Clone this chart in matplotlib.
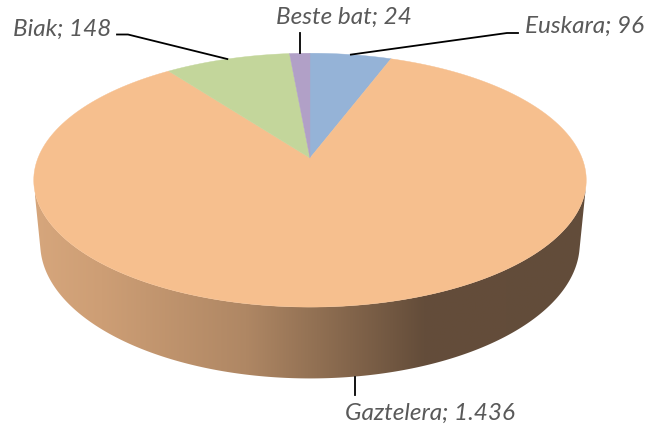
import numpy as np
import matplotlib
matplotlib.use("Agg")
import matplotlib.pyplot as plt
from matplotlib.patches import Polygon
from matplotlib.colors import LinearSegmentedColormap

# language counts, drawn clockwise from the back of the pie
labels = ["Euskara", "Gaztelera", "Biak", "Beste bat"]
values = [96, 1436, 148, 24]
value_text = ["96", "1.436", "148", "24"]
colors = ["#95B3D7", "#F6BF8E", "#C3D69B", "#B1A0C7"]

# simple perspective camera for a tilted disc of radius 1
cx, cy = 310, 158
tilt = np.radians(26.9)
s, c = np.sin(tilt), np.cos(tilt)
D = 5.11
k = 1390
h = 0.264   # thickness of the pie


def proj(theta, z=0.0):
    X = np.sin(theta)
    Y = np.cos(theta)
    up = Y * s + z * c
    depth = D + Y * c - z * s
    return cx + k * X / depth, cy - k * up / depth


fig = plt.figure(figsize=(6.51, 4.28), dpi=100)
ax = fig.add_axes([0, 0, 1, 1])
ax.set_xlim(0, 651)
ax.set_ylim(428, 0)
ax.axis("off")

# side wall: front facing part only, filled with a left-to-right shading
lim = np.arccos(-1 / (D * c))
t = np.linspace(lim, 2 * np.pi - lim, 300)
tx, ty = proj(t, 0)
bx, by = proj(t[::-1], -h)
side = Polygon(np.column_stack([np.r_[tx, bx], np.r_[ty, by]]),
               closed=True, facecolor="none", edgecolor="none")
ax.add_patch(side)
shade = LinearSegmentedColormap.from_list("side", [
    (0.0, (214/255, 166/255, 124/255)),
    (0.12, (205/255, 158/255, 117/255)),
    (0.38, (175/255, 135/255, 100/255)),
    (0.53, (140/255, 108/255, 80/255)),
    (0.70, (100/255, 77/255, 58/255)),
    (1.0, (98/255, 76/255, 58/255)),
])
grad = np.linspace(0, 1, 256)[None, :]
im = ax.imshow(grad, cmap=shade, extent=[35, 590, 400, 150], aspect="auto",
               interpolation="bilinear", zorder=1)
im.set_clip_path(side)

# top face slices
angles = np.r_[0, np.cumsum(values)] / sum(values) * 2 * np.pi
for i in range(len(values)):
    tt = np.linspace(angles[i], angles[i + 1], 200)
    px, py = proj(tt, 0)
    pts = np.column_stack([np.r_[cx, px], np.r_[cy, py]])
    ax.add_patch(Polygon(pts, closed=True, facecolor=colors[i],
                         edgecolor=colors[i], lw=0.3, zorder=2))

# data labels with leader lines
mids = (angles[:-1] + angles[1:]) / 2
font = dict(family="Lato", style="italic", fontsize=17.5, color="#595959")
lw = 1.3

ex, ey = proj(mids[0], 0)
ax.plot([518, 507, ex], [33, 33, ey], color="black", lw=lw, zorder=3)
ax.text(525, 33, labels[0] + "; " + value_text[0], ha="left", va="baseline", **font)

gx, gy = proj(mids[1], -h)
ax.plot([gx, gx], [gy, 395], color="black", lw=lw, zorder=3)
ax.text(430, 420, labels[1] + "; " + value_text[1], ha="center", va="baseline", **font)

bx_, by_ = proj(mids[2], 0)
ax.plot([117, 128, bx_], [34.5, 34.5, by_], color="black", lw=lw, zorder=3)
ax.text(111, 36, labels[2] + "; " + value_text[2], ha="right", va="baseline", **font)

ox, oy = proj(mids[3], 0)
ax.plot([ox, ox], [33, oy], color="black", lw=lw, zorder=3)
ax.text(344, 24, labels[3] + "; " + value_text[3], ha="center", va="baseline", **font)

fig.savefig("out.png", dpi=100)
